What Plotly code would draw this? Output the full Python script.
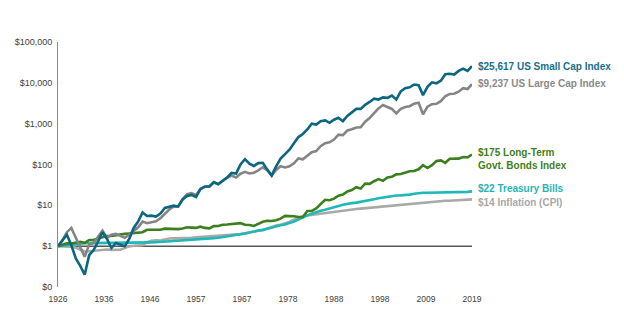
import plotly.graph_objects as go
import numpy as np

# Growth of $1 invested, 1926-2019
years = list(range(1926, 2020))

small_cap = [
    1.0, 1.4, 1.9, 1.05, 0.5, 0.33, 0.2, 0.6, 0.8, 1.3,
    2.2, 1.5, 0.9, 1.2, 1.1, 1.0, 1.5, 2.8, 4.0, 6.7,
    5.5, 5.6, 5.3, 6.3, 8.6, 9.3, 9.8, 9.4, 14, 17,
    18, 16, 25, 29, 29, 37, 33, 40, 48, 62,
    60, 100, 135, 105, 92, 108, 110, 75, 54, 90,
    140, 180, 230, 330, 470, 560, 720, 1000, 950, 1150,
    1200, 1050, 1250, 1400, 1150, 1550, 1900, 2300, 2300, 2900,
    3400, 4100, 3900, 4400, 4300, 4900, 3900, 6200, 7400, 7800,
    9100, 8800, 5000, 8000, 10300, 9700, 11300, 16300, 16700, 15900,
    19600, 22300, 19600, 25617,
]

large_cap = [
    1.0, 1.4, 2.2, 2.8, 1.6, 0.9, 0.55, 1.1, 1.2, 1.7,
    2.4, 1.6, 1.9, 2.0, 1.8, 1.6, 1.9, 2.4, 2.9, 4.0,
    3.65, 3.86, 4.07, 4.84, 6.39, 7.93, 9.38, 9.29, 14.2, 18.7,
    19.9, 17.7, 25.4, 28.5, 28.6, 36.3, 33.1, 40.7, 47.4, 53.3,
    47.9, 59.4, 66.0, 60.4, 62.8, 71.8, 85.4, 72.9, 53.6, 73.5,
    91.0, 84.5, 90.0, 106.6, 141.3, 134.3, 163.2, 200.0, 212.5, 280.3,
    332.6, 350.2, 408.4, 537.8, 521.1, 679.6, 731.4, 805.1, 815.6, 1122,
    1380, 1840, 2366, 2864, 2603, 2294, 1787, 2300, 2550, 2675,
    3098, 3268, 1700, 2604, 2996, 3059, 3549, 4698, 5341, 5415,
    6063, 7386, 7062, 9237,
]

lt_bonds = [
    1.0, 1.08, 1.17, 1.16, 1.22, 1.28, 1.21, 1.42, 1.42, 1.57,
    1.65, 1.77, 1.79, 1.87, 1.98, 2.00, 2.04, 2.10, 2.14, 2.20,
    2.52, 2.51, 2.44, 2.52, 2.68, 2.68, 2.58, 2.61, 2.71, 2.90,
    2.85, 2.80, 3.01, 2.80, 2.73, 3.10, 3.13, 3.34, 3.39, 3.51,
    3.53, 3.66, 3.33, 3.30, 3.12, 3.50, 3.97, 4.19, 4.14, 4.32,
    4.72, 5.51, 5.48, 5.40, 5.17, 5.17, 7.24, 7.29, 8.41, 11.0,
    13.7, 13.3, 14.6, 17.3, 18.3, 21.9, 23.6, 27.9, 25.8, 33.9,
    33.6, 38.9, 44.0, 39.8, 48.1, 50.2, 57.4, 58.7, 63.3, 68.6,
    69.4, 76.4, 96.2, 81.9, 96.0, 122.0, 126.0, 110.0, 138.0, 137.0,
    139.0, 152.0, 150.0, 175,
]

t_bills = [
    1.00, 1.03, 1.07, 1.12, 1.15, 1.17, 1.18, 1.19, 1.19, 1.19,
    1.20, 1.20, 1.20, 1.20, 1.20, 1.20, 1.21, 1.21, 1.22, 1.22,
    1.23, 1.24, 1.25, 1.27, 1.28, 1.30, 1.32, 1.34, 1.35, 1.37,
    1.40, 1.44, 1.46, 1.50, 1.54, 1.57, 1.61, 1.66, 1.72, 1.79,
    1.87, 1.95, 2.05, 2.18, 2.32, 2.42, 2.51, 2.69, 2.91, 3.08,
    3.24, 3.41, 3.65, 4.01, 4.46, 5.13, 5.69, 6.20, 6.82, 7.33,
    7.80, 8.26, 8.81, 9.58, 10.33, 10.92, 11.31, 11.65, 12.10, 12.80,
    13.45, 14.15, 14.85, 15.55, 16.45, 17.07, 17.35, 17.53, 17.76, 18.33,
    19.20, 20.08, 20.37, 20.39, 20.42, 20.43, 20.44, 20.45, 20.45, 20.46,
    20.52, 20.90, 21.40, 22,
]

inflation = [
    1.00, 0.98, 0.97, 0.97, 0.91, 0.82, 0.74, 0.75, 0.77, 0.79,
    0.80, 0.83, 0.81, 0.81, 0.82, 0.90, 0.99, 1.02, 1.04, 1.06,
    1.25, 1.36, 1.40, 1.37, 1.45, 1.54, 1.55, 1.56, 1.56, 1.57,
    1.61, 1.66, 1.69, 1.71, 1.73, 1.75, 1.77, 1.80, 1.82, 1.85,
    1.91, 1.97, 2.06, 2.18, 2.30, 2.38, 2.46, 2.67, 2.99, 3.20,
    3.36, 3.58, 3.90, 4.42, 4.97, 5.40, 5.61, 5.82, 6.05, 6.28,
    6.35, 6.63, 6.92, 7.24, 7.50, 7.70, 7.90, 8.10, 8.30, 8.50,
    8.80, 8.95, 9.10, 9.35, 9.70, 9.85, 10.05, 10.25, 10.60, 10.95,
    11.20, 11.65, 11.65, 11.95, 12.20, 12.50, 12.70, 12.90, 13.00, 13.10,
    13.30, 13.55, 13.80, 14.0,
]

x_tick_labels = ["1926", "1936", "1946", "1957", "1967", "1978", "1988", "1998", "2009", "2019"]
y_tick_values = [0.1, 1, 10, 100, 1000, 10000, 100000]
y_tick_labels = ["$0", "$1", "$10", "$100", "$1,000", "$10,000", "$100,000"]

series = [
    ("Inflation (CPI)", inflation, "#a9a9a9"),
    ("Treasury Bills", t_bills, "#1fb7b7"),
    ("Long-Term Govt. Bonds Index", lt_bonds, "#3c7f1f"),
    ("US Large Cap Index", large_cap, "#858585"),
    ("US Small Cap Index", small_cap, "#0d6680"),
]

# End-of-period labels: text, vertical anchor value, colour
labels = [
    ("<b>$25,617 US Small Cap Index</b>", 25617 * 0.97, "#17708c"),
    ("<b>$9,237 US Large Cap Index</b>", 9237 * 1.03, "#8a8a8a"),
    ("<b>$175 Long-Term<br>Govt. Bonds Index</b>", 175 * 0.8, "#3e7f22"),
    ("<b>$22 Treasury Bills</b>", 22 * 1.2, "#1fb5b5"),
    ("<b>$14 Inflation (CPI)</b>", 14 * 0.84, "#a8a8a8"),
]

fig = go.Figure()
for name, vals, color in series:
    fig.add_trace(go.Scatter(
        x=years, y=vals, mode="lines", name=name,
        line=dict(color=color, width=2.6),
        hoverinfo="skip",
    ))

# $1 reference line
fig.add_shape(type="line", xref="paper", x0=0, x1=1, yref="y", y0=1, y1=1,
              line=dict(color="#000000", width=1), layer="below")

for text, yv, color in labels:
    fig.add_annotation(
        x=1, xref="paper", xanchor="left", xshift=4,
        y=np.log10(yv), yref="y", yanchor="middle",
        text=text, showarrow=False, align="left",
        font=dict(family="Liberation Sans, Arial, sans-serif", size=10, color=color),
    )

fig.update_layout(
    width=624, height=329,
    margin=dict(l=58, r=152, t=42, b=42),
    paper_bgcolor="white", plot_bgcolor="white",
    showlegend=False,
    font=dict(family="Liberation Sans, Arial, sans-serif", size=9, color="#404040"),
)
fig.update_xaxes(
    range=[1926, 2019],
    tickvals=list(np.linspace(1926, 2019, len(x_tick_labels))),
    ticktext=x_tick_labels,
    showgrid=False, zeroline=False, showline=False, ticks="",
    ticklabelstandoff=5,
    tickfont=dict(size=8.5, color="#404040"),
)
fig.update_yaxes(
    type="log", range=[-1, 5],
    tickvals=y_tick_values, ticktext=y_tick_labels,
    showgrid=False, zeroline=False, showline=True, linecolor="#8c8c8c", linewidth=1,
    ticks="", ticklabelstandoff=3,
    tickfont=dict(size=9, color="#404040"),
)

fig.write_html("out.html")
